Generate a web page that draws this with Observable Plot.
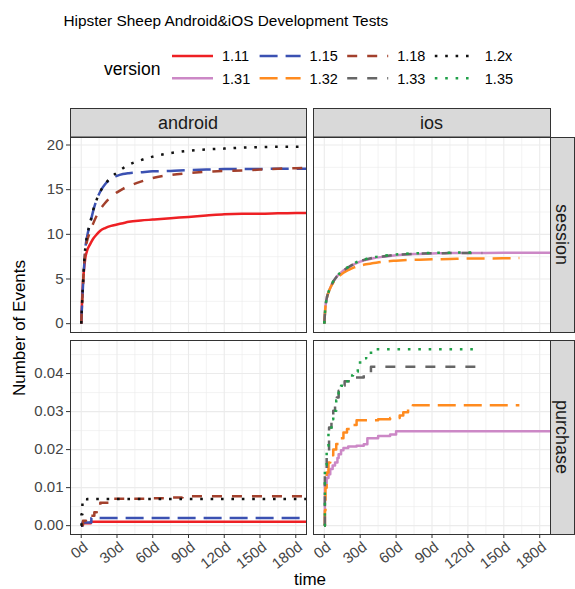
<!DOCTYPE html>
<html><head><meta charset="utf-8">
<script src="https://cdn.jsdelivr.net/npm/d3@7"></script>
<script src="https://cdn.jsdelivr.net/npm/@observablehq/plot@0.6"></script>
<style>
body{margin:0;background:#fff;}
#chart{position:relative;width:575px;height:589px;overflow:hidden;background:#fff;font-family:"Liberation Sans",Arial,Helvetica,sans-serif;}
#chart > svg{position:absolute;}
</style></head><body><div id="chart"></div>
<script>
// ---------- data ----------
const titleText = "Hipster Sheep Android&iOS Development Tests";
const versions = ["1.11","1.15","1.18","1.2x","1.31","1.32","1.33","1.35"];
const colors = ["#ee2024","#3b51b2","#a3402c","#111111","#cc88c6","#ff8b1f","#666666","#20a048"];
const dashes = [null,"18,8","10,10","2.6,7.8",null,"18,8","10,10","2.6,7.8"];
const platforms = ["android","ios"];
const metrics = ["session","purchase"];
const xTicks = [0,30,60,90,120,150,180];
const xTickLabels = ["0d","30d","60d","90d","120d","150d","180d"];
const xMinor = [15,45,75,105,135,165];
const ySessionTicks = [0,5,10,15,20];
const ySessionLabels = ["0","5","10","15","20"];
const ySessionMinor = [2.5,7.5,12.5,17.5];
const yPurchaseTicks = [0,0.01,0.02,0.03,0.04];
const yPurchaseLabels = ["0.00","0.01","0.02","0.03","0.04"];
const yPurchaseMinor = [0.005,0.015,0.025,0.035,0.045];

// android / session
const andSessDays = [0,1,2,3.5,5,7.5,10,13,16,20,25,30,35,40,50,60,75,90,105,120,135,150,165,180,190];
const andSess111 = [0,3.6,5.6,7.4,8.2,8.9,9.5,10.0,10.4,10.7,10.95,11.1,11.25,11.4,11.55,11.65,11.8,11.95,12.1,12.25,12.3,12.3,12.35,12.4,12.4];
const andSess115 = [0,3.0,5.5,8.5,9.8,11.2,12.6,13.9,14.8,15.6,16.2,16.55,16.75,16.85,16.95,17.05,17.1,17.2,17.25,17.3,17.3,17.3,17.35,17.35,17.35];
const andSess118 = [0,3.0,5.5,8.3,9.3,10.3,11.2,12.1,12.8,13.5,14.2,14.7,15.1,15.4,15.9,16.3,16.65,16.85,17.0,17.1,17.15,17.25,17.35,17.4,17.45];
const andSess12x = [0,3.2,5.8,8.6,9.9,11.3,12.7,13.9,14.8,15.6,16.4,16.9,17.4,17.8,18.3,18.7,19.1,19.35,19.5,19.6,19.7,19.75,19.8,19.8,19.85];

// ios / session
const iosSessDays131 = [0,1,2,3.5,5,7.5,10,13,16,20,25,30,35,40,50,60,75,90,105,120,135,150,165,180,190];
const iosSess131 = [0,1.9,2.8,3.5,4.0,4.7,5.2,5.6,5.95,6.3,6.65,6.95,7.15,7.3,7.5,7.65,7.8,7.85,7.9,7.9,7.92,7.93,7.95,7.95,7.95];
const iosSessDays132 = [0,1,2,3.5,5,7.5,10,13,16,20,25,30,35,40,50,60,75,90,105,120,135,150,163];
const iosSess132 = [0,1.9,2.8,3.5,4.0,4.6,5.05,5.4,5.7,6.0,6.3,6.5,6.65,6.75,6.95,7.05,7.15,7.2,7.25,7.3,7.3,7.32,7.35];
const iosSessDays133 = [0,1,2,3.5,5,7.5,10,13,16,20,25,30,35,40,50,60,75,90,105,120,132];
const iosSess133 = [0,1.9,2.8,3.5,4.0,4.7,5.2,5.6,5.95,6.3,6.7,7.0,7.2,7.35,7.55,7.7,7.82,7.88,7.9,7.92,7.92];
const iosSessDays135 = [0,1,2,3.5,5,7.5,10,13,16,20,25,30,35,40,50,60,75,90,105,120,128];
const iosSess135 = [0,1.9,2.8,3.5,4.05,4.75,5.25,5.65,6.0,6.35,6.75,7.05,7.25,7.4,7.6,7.75,7.87,7.92,7.95,7.97,7.97];

// android / purchase (step)
const andPurDays111 = [0,1,8,190];
const andPur111 = [0,0.0006,0.001,0.001];
const andPurDays115 = [0,1,8.5,190];
const andPur115 = [0,0.0008,0.002,0.002];
const andPurDays118 = [0,1.5,4,7.5,11,13,16,25,60,70,85,190];
const andPur118 = [0.0002,0.0013,0.0012,0.0026,0.0035,0.004,0.006,0.0071,0.0072,0.0074,0.0077,0.0077];
const andPurDays12x = [0,0.2,1,5,190];
const andPur12x = [0,0.003,0.006,0.007,0.007];

// ios / purchase (step)
const iosPurDays131 = [0,0.5,2,3.5,5,7,9,11,12,14,16,20,27,33,36,45,55,60,190];
const iosPur131 = [0,0.011,0.0125,0.0135,0.0149,0.0158,0.0166,0.0178,0.0188,0.0198,0.0204,0.0208,0.021,0.0214,0.023,0.0236,0.024,0.0248,0.0248];
const iosPurDays132 = [0,0.5,1,2,3.5,5,7.5,10,13,16,19,23,27,45,55,63,66,70,74,163];
const iosPur132 = [0,0.004,0.01,0.014,0.0166,0.0185,0.02,0.0215,0.023,0.0245,0.0254,0.0265,0.0277,0.028,0.0283,0.029,0.0298,0.0306,0.0317,0.0317];
const iosPurDays133 = [0,0.5,2,4,6,7.5,9,10.5,12,13,17,25,33,39,131];
const iosPur133 = [0,0.0136,0.0197,0.0258,0.028,0.0302,0.032,0.0337,0.0355,0.0368,0.038,0.039,0.0403,0.0418,0.0418];
const iosPurDays135 = [0,0.5,2,3.5,6,7.5,10,12,14,16,20,24,28,32,35,42,126];
const iosPur135 = [0,0.016,0.021,0.025,0.028,0.0302,0.033,0.035,0.0368,0.038,0.0395,0.0405,0.0429,0.044,0.0455,0.0464,0.0464];

// ---------- drawing ----------
const FONT = '"Liberation Sans", Arial, Helvetica, sans-serif';
const chart = document.getElementById("chart");
const rows = (days, vals) => days.map((d, i) => ({day: d, value: vals[i]}));

function panel(o) {
  const marks = [
    Plot.ruleX(xMinor, {stroke: "#ebebeb", strokeWidth: 0.6}),
    Plot.ruleY(o.yMinor, {stroke: "#ebebeb", strokeWidth: 0.6}),
    Plot.ruleX(xTicks, {stroke: "#ebebeb", strokeWidth: 1.1}),
    Plot.ruleY(o.yTicks, {stroke: "#ebebeb", strokeWidth: 1.1})
  ];
  for (const s of o.series) {
    marks.push(Plot.line(rows(s.days, s.vals), {
      x: "day", y: "value", stroke: colors[s.k], strokeWidth: 2.5,
      strokeDasharray: dashes[s.k] || undefined, strokeLinecap: "butt", strokeLinejoin: "round",
      curve: o.step ? "step-after" : "monotone-x", clip: true
    }));
  }
  marks.push(Plot.frame({stroke: "#333333", strokeWidth: 1}));
  if (o.showY) marks.push(Plot.axisY(o.yTicks, {
    tickSize: 4, tickPadding: 3, label: null, stroke: "#333333", fill: "#444444", fontSize: 15,
    tickFormat: d => o.yLabels[o.yTicks.indexOf(d)]
  }));
  if (o.showX) {
    marks.push(Plot.axisX(xTicks, {
      tickSize: 4, label: null, stroke: "#333333", tickFormat: () => ""
    }));
    marks.push(Plot.text(xTicks, {
      x: d => d, frameAnchor: "bottom", text: d => xTickLabels[xTicks.indexOf(d)],
      rotate: -38, textAnchor: "end", lineAnchor: "top", dy: 6, dx: 1,
      fill: "#444444", fontSize: 15
    }));
  }
  const svg = Plot.plot({
    width: o.width, height: o.height,
    marginLeft: o.ml, marginRight: o.mr, marginTop: o.mt, marginBottom: o.mb,
    style: {fontFamily: FONT, background: "transparent", overflow: "visible"},
    x: {domain: [-9, 189], axis: o.showX ? undefined : null},
    y: {domain: o.yDomain, axis: o.showY ? undefined : null},
    marks
  });
  svg.style.left = o.left + "px";
  svg.style.top = o.top + "px";
  chart.appendChild(svg);
}

const sessDomain = [-0.99, 20.84];
const purDomain = [-0.00233, 0.0487];

panel({left: 0, top: 135, width: 308, height: 199, ml: 70, mr: 2, mt: 2, mb: 2,
  yDomain: sessDomain, yTicks: ySessionTicks, yLabels: ySessionLabels, yMinor: ySessionMinor,
  showY: true, showX: false, step: false,
  series: [{k:0, days:andSessDays, vals:andSess111},{k:1, days:andSessDays, vals:andSess115},
           {k:2, days:andSessDays, vals:andSess118},{k:3, days:andSessDays, vals:andSess12x}]});
panel({left: 311, top: 135, width: 241, height: 199, ml: 2, mr: 2, mt: 2, mb: 2,
  yDomain: sessDomain, yTicks: ySessionTicks, yLabels: ySessionLabels, yMinor: ySessionMinor,
  showY: false, showX: false, step: false,
  series: [{k:4, days:iosSessDays131, vals:iosSess131},{k:5, days:iosSessDays132, vals:iosSess132},
           {k:6, days:iosSessDays133, vals:iosSess133},{k:7, days:iosSessDays135, vals:iosSess135}]});
panel({left: 0, top: 338, width: 308, height: 251, ml: 70, mr: 2, mt: 2, mb: 55,
  yDomain: purDomain, yTicks: yPurchaseTicks, yLabels: yPurchaseLabels, yMinor: yPurchaseMinor,
  showY: true, showX: true, step: true,
  series: [{k:0, days:andPurDays111, vals:andPur111},{k:1, days:andPurDays115, vals:andPur115},
           {k:2, days:andPurDays118, vals:andPur118},{k:3, days:andPurDays12x, vals:andPur12x}]});
panel({left: 311, top: 338, width: 241, height: 251, ml: 2, mr: 2, mt: 2, mb: 55,
  yDomain: purDomain, yTicks: yPurchaseTicks, yLabels: yPurchaseLabels, yMinor: yPurchaseMinor,
  showY: false, showX: true, step: true,
  series: [{k:4, days:iosPurDays131, vals:iosPur131},{k:5, days:iosPurDays132, vals:iosPur132},
           {k:6, days:iosPurDays133, vals:iosPur133},{k:7, days:iosPurDays135, vals:iosPur135}]});

// ---------- overlay: title, legend, strips, axis titles ----------
const ov = d3.select(chart).append("svg")
  .attr("width", 575).attr("height", 589)
  .style("left", "0px").style("top", "0px")
  .style("font-family", FONT).style("pointer-events", "none");

ov.append("text").attr("x", 63.5).attr("y", 26).attr("font-size", 15.4).attr("fill", "#000").text(titleText);

ov.append("text").attr("x", 104).attr("y", 75).attr("font-size", 17.5).attr("fill", "#000").text("version");
const keyRowY = [56, 78.3];
for (let r = 0; r < 2; r++) {
  for (let c = 0; c < 4; c++) {
    const k = r * 4 + c;
    const x0 = 172 + c * 87.6;
    const ln = ov.append("line").attr("x1", x0).attr("x2", x0 + 41)
      .attr("y1", keyRowY[r]).attr("y2", keyRowY[r])
      .attr("stroke", colors[k]).attr("stroke-width", 2.5).attr("stroke-linecap", "butt");
    if (dashes[k]) ln.attr("stroke-dasharray", dashes[k]);
    ov.append("text").attr("x", x0 + 50).attr("y", keyRowY[r] + 5.3)
      .attr("font-size", 14.5).attr("fill", "#000").text(versions[k]);
  }
}

// strips
const topStrips = [{x0: 70, x1: 306}, {x0: 313, x1: 550}];
topStrips.forEach((s, i) => {
  ov.append("rect").attr("x", s.x0 + 0.5).attr("y", 108.5).attr("width", s.x1 - s.x0).attr("height", 28.5)
    .attr("fill", "#d9d9d9").attr("stroke", "#333333").attr("stroke-width", 1);
  ov.append("text").attr("x", (s.x0 + s.x1) / 2).attr("y", 123).attr("dy", "0.35em")
    .attr("text-anchor", "middle").attr("font-size", 18).attr("fill", "#1a1a1a").text(platforms[i]);
});
const sideStrips = [{y0: 137, y1: 332}, {y0: 340, y1: 534}];
sideStrips.forEach((s, i) => {
  ov.append("rect").attr("x", 550.5).attr("y", s.y0 + 0.5).attr("width", 24).attr("height", s.y1 - s.y0)
    .attr("fill", "#d9d9d9").attr("stroke", "#333333").attr("stroke-width", 1);
  ov.append("text").attr("transform", `translate(562.5,${(s.y0 + s.y1) / 2}) rotate(90)`)
    .attr("dy", "0.35em").attr("text-anchor", "middle").attr("font-size", 18).attr("fill", "#1a1a1a").text(metrics[i]);
});

ov.append("text").attr("x", 310).attr("y", 585).attr("text-anchor", "middle")
  .attr("font-size", 17).attr("fill", "#000").text("time");
ov.append("text").attr("transform", "translate(25,328) rotate(-90)").attr("text-anchor", "middle")
  .attr("font-size", 17).attr("fill", "#000").text("Number of Events");
</script>
</body></html>
